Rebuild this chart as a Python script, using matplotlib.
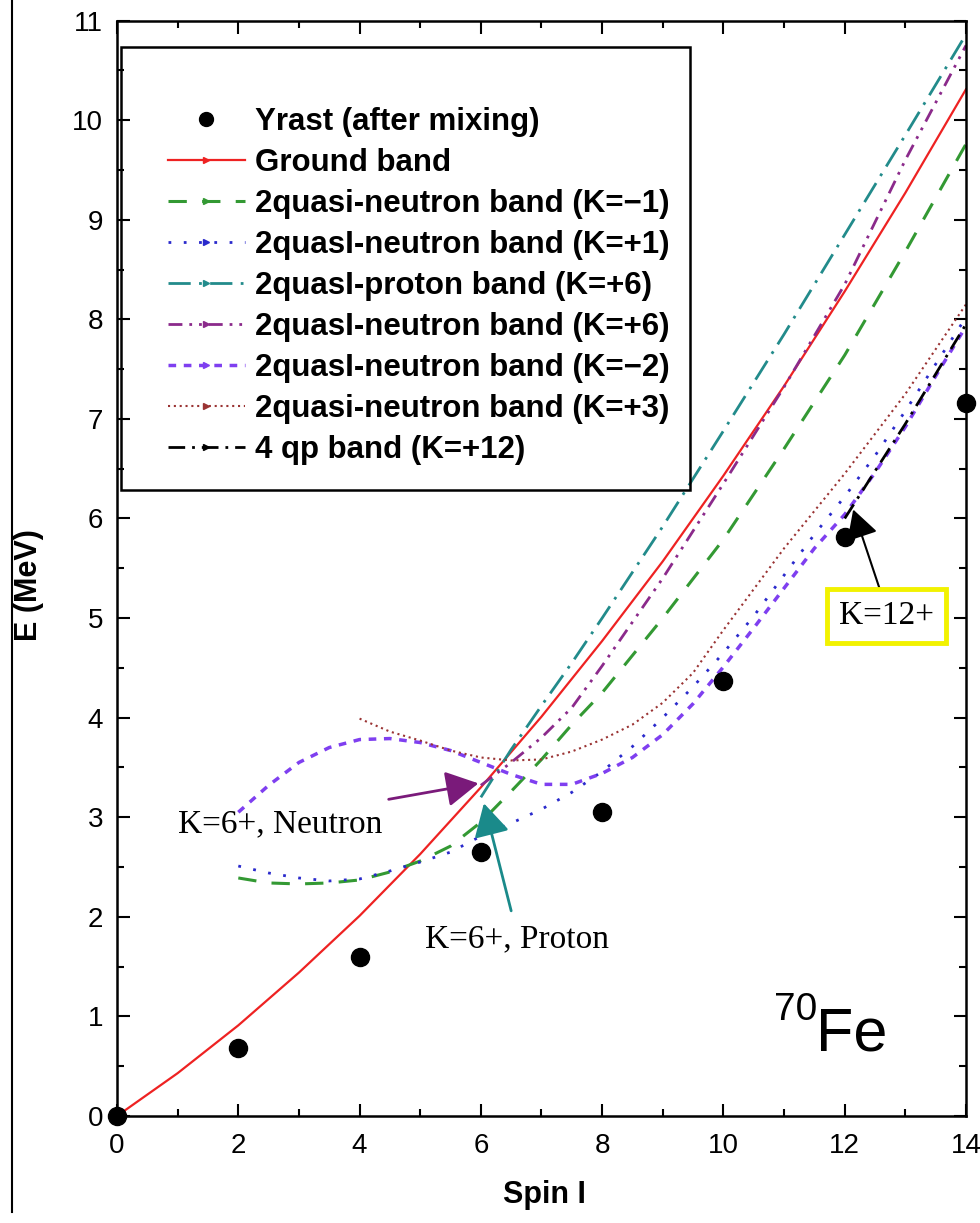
import matplotlib
matplotlib.use("Agg")
import matplotlib.pyplot as plt
from matplotlib.lines import Line2D
from matplotlib.patches import Rectangle

plt.rcParams['font.family'] = ['Liberation Sans', 'DejaVu Sans']

# Yrast states after mixing
yrast_spin = [0, 2, 4, 6, 8, 10, 12, 14]
yrast_e = [0.0, 0.68, 1.60, 2.65, 3.05, 4.37, 5.81, 7.16]

# ground band
gb_spin = [0, 1, 2, 3, 4, 5, 6, 7, 8, 9, 10, 11, 12, 13, 14]
gb_e = [0.0, 0.43, 0.91, 1.44, 2.01, 2.63, 3.30, 4.01, 4.77, 5.57, 6.43, 7.33, 8.28, 9.27, 10.31]

# 2qn band K=-1
km1_spin = [2, 2.5, 3, 3.5, 4, 4.5, 5, 5.5, 6, 6.5, 7, 7.5, 8, 9, 10, 11, 12, 13, 14]
km1_e = [2.39, 2.34, 2.33, 2.34, 2.37, 2.45, 2.56, 2.71, 2.95, 3.26, 3.58, 3.93, 4.25,
         5.00, 5.79, 6.70, 7.64, 8.68, 9.76]

# 2qn band K=+1
kp1_spin = [2, 2.5, 3, 3.5, 4, 4.5, 5, 5.5, 6, 6.5, 7, 7.5, 8, 8.5, 9, 9.5, 10,
            10.5, 11, 11.5, 12, 12.5, 13, 13.5, 14]
kp1_e = [2.51, 2.44, 2.39, 2.36, 2.38, 2.46, 2.55, 2.65, 2.81, 2.94, 3.08, 3.25, 3.46,
         3.71, 4.00, 4.31, 4.65, 5.02, 5.43, 5.84, 6.22, 6.63, 7.08, 7.55, 8.02]

# 2qp band K=+6
pk6_spin = [6, 6.5, 7, 7.5, 8, 9, 10, 11, 12, 13, 14]
pk6_e = [3.20, 3.68, 4.12, 4.55, 5.00, 5.92, 6.88, 7.85, 8.85, 9.85, 10.86]

# 2qn band K=+6
nk6_spin = [6, 6.5, 7, 7.5, 8, 9, 10, 11, 12, 13, 14]
nk6_e = [3.32, 3.55, 3.80, 4.10, 4.52, 5.40, 6.35, 7.32, 8.35, 9.60, 10.75]

# 2qn band K=-2
km2_spin = [2, 2.5, 3, 3.5, 4, 4.5, 5, 5.5, 6, 6.5, 7, 7.5, 8, 8.5, 9, 9.5, 10,
            10.5, 11, 11.5, 12, 12.5, 13, 13.5, 14]
km2_e = [3.05, 3.32, 3.55, 3.70, 3.78, 3.79, 3.75, 3.67, 3.55, 3.43, 3.33, 3.33, 3.44,
         3.60, 3.83, 4.14, 4.51, 4.90, 5.30, 5.70, 6.04, 6.46, 6.92, 7.43, 7.93]

# 2qn band K=+3
kp3_spin = [4, 4.5, 5, 5.5, 6, 6.5, 7, 7.5, 8, 8.5, 9, 9.5, 10, 11, 12, 13, 14]
kp3_e = [3.99, 3.86, 3.77, 3.67, 3.60, 3.57, 3.58, 3.66, 3.78, 3.93, 4.15, 4.45, 4.88,
         5.70, 6.45, 7.25, 8.15]

# 4qp band K=+12
k12_spin = [12, 13, 14]
k12_e = [6.00, 6.95, 7.95]

labels = ['Yrast (after mixing)', 'Ground band',
          '2quasi-neutron band (K=\u22121)', '2quasI-neutron band (K=+1)',
          '2quasI-proton band (K=+6)', '2quasI-neutron band (K=+6)',
          '2quasI-neutron band (K=\u22122)', '2quasi-neutron band (K=+3)',
          '4 qp band (K=+12)']

fig = plt.figure(figsize=(9.8, 12.23), dpi=100)
ax = fig.add_axes([0.1194, 0.0875, 0.8663, 0.8957])

red = '#ee2222'
green = '#339933'
blue = '#2a2acc'
teal = '#228b8b'
purple = '#8b2a8b'
violet = '#7f3ff0'
brown = '#9a3333'

styles = [
    (gb_spin, gb_e, red, '-', 1.6),
    (km1_spin, km1_e, green, (0, (6, 5)), 2.2),
    (kp1_spin, kp1_e, blue, (0, (1, 4.5)), 2.0),
    (pk6_spin, pk6_e, teal, (0, (8, 3, 1, 3)), 2.0),
    (nk6_spin, nk6_e, purple, (0, (5, 2.5, 1, 2.5, 1, 2.5)), 2.0),
    (km2_spin, km2_e, violet, (0, (2.2, 2.2)), 2.5),
    (kp3_spin, kp3_e, brown, (0, (1, 1.8)), 1.5),
    (k12_spin, k12_e, 'black', (0, (6, 2.5, 1, 2.5)), 2.0),
]

handles = [Line2D([], [], color='black', marker='o', ls='none', markersize=10)]
for sp, en, c, ls, lw in styles:
    ax.plot(sp, en, color=c, ls=ls, lw=lw)
    handles.append(Line2D([], [], color=c, ls=ls, lw=lw, marker='>', markersize=4))

ax.plot(yrast_spin, yrast_e, 'o', color='black', markersize=13, clip_on=False, zorder=5)

ax.set_xlim(0, 14)
ax.set_ylim(0, 11)
ax.set_xticks(range(0, 15, 2))
ax.set_xticks(range(1, 14, 2), minor=True)
ax.set_yticks(range(0, 12))
ax.set_yticks([i + 0.5 for i in range(11)], minor=True)
ax.tick_params(which='both', direction='in', top=True, right=True, width=1.5,
               labelsize=20)
ax.tick_params(which='major', length=9)
ax.tick_params(which='minor', length=5)
ax.tick_params(axis='x', pad=12)
ax.tick_params(axis='y', pad=10)
for s in ax.spines.values():
    s.set_linewidth(1.8)

ax.set_xlabel('Spin I', fontsize=22, fontweight='bold')
ax.set_ylabel('E (MeV)', fontsize=22, fontweight='bold')
ax.xaxis.set_label_coords(0.504, -0.058)
ax.yaxis.set_label_coords(-0.086, 0.485)

# legend box
ax.add_patch(Rectangle((0.0047, 0.5717), 0.670, 0.4046, transform=ax.transAxes,
                       fill=False, edgecolor='black', lw=1.8, zorder=6))
ax.legend(handles, labels, loc='upper left', bbox_to_anchor=(0.060, 0.921),
          frameon=False, numpoints=1, handlelength=2.46,
          handletextpad=0.32, labelspacing=0.35, borderpad=0, borderaxespad=0,
          prop={'weight': 'bold', 'size': 22.5})

# annotations
ax.annotate('', xy=(5.96, 3.34), xytext=(4.48, 3.18),
            arrowprops=dict(arrowstyle='-|>,head_length=0.4,head_width=0.22',
                            color='#7a1a7a', lw=2, mutation_scale=50,
                            shrinkA=0, shrinkB=0))
ax.text(2.69, 2.93, 'K=6+, Neutron', family='Liberation Serif', fontsize=24,
        ha='center', va='center')

ax.annotate('', xy=(6.05, 3.14), xytext=(6.5, 2.06),
            arrowprops=dict(arrowstyle='-|>,head_length=0.4,head_width=0.22',
                            color='#1a8a8a', lw=2, mutation_scale=50,
                            shrinkA=0, shrinkB=0))
ax.text(6.6, 1.78, 'K=6+, Proton', family='Liberation Serif', fontsize=24,
        ha='center', va='center')

ax.annotate('', xy=(12.14, 6.09), xytext=(12.6, 5.25),
            arrowprops=dict(arrowstyle='-|>,head_length=0.4,head_width=0.22',
                            color='black', lw=1.5, mutation_scale=45,
                            shrinkA=0, shrinkB=0))
ax.text(12.69, 5.02, 'K=12+', family='Liberation Serif', fontsize=24,
        ha='center', va='center',
        bbox=dict(boxstyle='square,pad=0.35', fc='white', ec='#f2f200', lw=3.5))

ax.text(10.84, 0.96, '70', fontsize=28, ha='left', va='baseline')
ax.text(11.53, 0.66, 'Fe', fontsize=44, ha='left', va='baseline')

fig.add_artist(Line2D([12 / 980, 12 / 980], [1 - 1212 / 1223, 1], color='black',
                      lw=1.5, transform=fig.transFigure))

fig.savefig('out.png', dpi=100)
